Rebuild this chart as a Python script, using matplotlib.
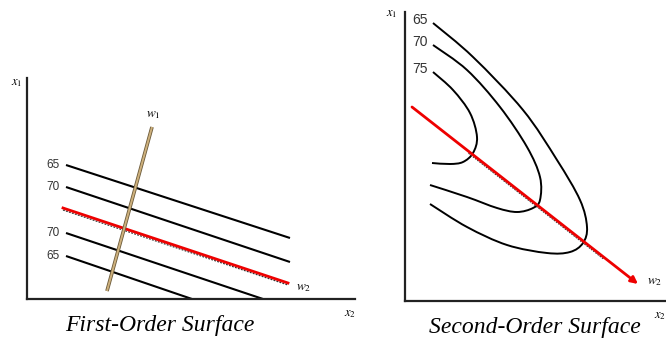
import matplotlib
matplotlib.use('Agg')
import matplotlib.pyplot as plt
from matplotlib.path import Path
from matplotlib.patches import PathPatch
import numpy as np

plt.rcParams['mathtext.fontset'] = 'stix'

# ---- first-order surface (straight contour lines) ----
first_labels = ['65', '70', '70', '65']
first_x0 = [39, 39, 39, 39]
first_y0 = [134, 112, 66, 43]
first_x1 = [263, 263, 236, 165]
first_y1 = [61, 37, 0, 0]
first_ridge_x = [36, 261]
first_ridge_y = [91, 16]
w1_x = [80, 125]
w1_y = [8, 172]

# ---- second-order surface (curved contours) ----
second_labels = ['65', '70', '75']
c65_x = [28, 68, 118, 152, 175, 182, 178, 165, 142, 102, 62, 25]
c65_y = [278, 244, 191, 141, 101, 74, 58, 49, 48, 56, 74, 97]
c70_x = [28, 62, 95, 122, 135, 135, 128, 112, 92, 62, 25]
c70_y = [256, 231, 194, 154, 124, 101, 93, 89, 93, 104, 116]
c75_x = [28, 48, 65, 72, 68, 58, 45, 27]
c75_y = [229, 211, 188, 164, 148, 139, 137, 138]
second_curves = [(c65_x, c65_y), (c70_x, c70_y), (c75_x, c75_y)]
second_ridge_x = [7, 233]
second_ridge_y = [194, 17]

fig = plt.figure(figsize=(6.66, 3.48), dpi=100)
W, H = 666, 348


def make_axes(x0, y0, w, h):
    ax = fig.add_axes([x0 / W, (H - y0) / H, w / W, h / H])
    ax.set_xlim(0, w)
    ax.set_ylim(0, h)
    for s in ['top', 'right']:
        ax.spines[s].set_visible(False)
    for s in ['left', 'bottom']:
        ax.spines[s].set_linewidth(1.6)
        ax.spines[s].set_color('#222222')
    ax.set_xticks([])
    ax.set_yticks([])
    ax.patch.set_alpha(0)
    return ax


def smooth_path(xs, ys):
    # bezier path passing through the read points (catmull-rom handles)
    p = np.column_stack([xs, ys]).astype(float)
    verts = [p[0]]
    codes = [Path.MOVETO]
    n = len(p)
    for i in range(n - 1):
        p0 = p[i - 1] if i > 0 else p[i]
        p3 = p[i + 2] if i + 2 < n else p[i + 1]
        c1 = p[i] + (p[i + 1] - p0) / 6.0
        c2 = p[i + 1] - (p3 - p[i]) / 6.0
        verts += [c1, c2, p[i + 1]]
        codes += [Path.CURVE4] * 3
    return Path(verts, codes)


# left panel
ax1 = make_axes(27, 299, 328, 221)
for lab, xa, ya, xb, yb in zip(first_labels, first_x0, first_y0, first_x1, first_y1):
    ax1.plot([xa, xb], [ya, yb], color='black', lw=1.5, solid_capstyle='butt', clip_on=False)
    ax1.text(xa - 6, ya, lab, ha='right', va='center', fontsize=8.5,
             family='Liberation Sans', color='#333333')
ax1.plot(first_ridge_x, np.array(first_ridge_y) - 2, color='#333333', lw=0.9, ls=(0, (1.5, 1)))
ax1.plot(first_ridge_x, first_ridge_y, color='#ee0000', lw=2.0)
ax1.plot(w1_x, w1_y, color='#6b5a3a', lw=2.6, solid_capstyle='butt')
ax1.plot(w1_x, w1_y, color='#cdb07c', lw=1.4, solid_capstyle='butt')
ax1.text(w1_x[1] + 1, w1_y[1] + 6, '$w_1$', fontsize=9.5, ha='center', va='bottom')
ax1.text(first_ridge_x[1] + 8, first_ridge_y[1] - 5, '$w_2$', fontsize=9.5, ha='left', va='center')
ax1.text(-10, 216, '$x_1$', fontsize=9, ha='center', va='center', clip_on=False)
ax1.text(323, -14, '$x_2$', fontsize=9, ha='center', va='center', clip_on=False)
ax1.text(133, -26, 'First-Order Surface', fontsize=17, family='Liberation Serif',
         style='italic', ha='center', va='center')

# right panel
ax2 = make_axes(405, 301, 261, 289)
for lab, (cx, cy) in zip(second_labels, second_curves):
    ax2.add_patch(PathPatch(smooth_path(cx, cy), facecolor='none', edgecolor='black',
                            lw=1.4, capstyle='butt'))
    ax2.text(cx[0] - 13, cy[0] + 3, lab, ha='center', va='center', fontsize=10,
             family='Liberation Sans', color='#333333')
# faint dashed trace under the middle part of the arrow
rx = np.array(second_ridge_x, dtype=float)
ry = np.array(second_ridge_y, dtype=float)
t = np.array([0.25, 0.85])
ax2.plot(rx[0] + t * (rx[1] - rx[0]), ry[0] + t * (ry[1] - ry[0]) - 2,
         color='#333333', lw=0.8, ls=(0, (1.5, 1)))
ax2.annotate('', xy=(second_ridge_x[1], second_ridge_y[1]),
             xytext=(second_ridge_x[0], second_ridge_y[0]),
             arrowprops=dict(arrowstyle='-|>', color='#ee0000', lw=2.0,
                             mutation_scale=10, shrinkA=0, shrinkB=0))
ax2.text(second_ridge_x[1] + 9, second_ridge_y[1] + 2, '$w_2$', fontsize=9.5, ha='left', va='center')
ax2.text(-13, 287, '$x_1$', fontsize=9, ha='center', va='center', clip_on=False)
ax2.text(255, -14, '$x_2$', fontsize=9, ha='center', va='center', clip_on=False)
ax2.text(130, -27, 'Second-Order Surface', fontsize=17, family='Liberation Serif',
         style='italic', ha='center', va='center')

fig.savefig('out.png', dpi=100)
